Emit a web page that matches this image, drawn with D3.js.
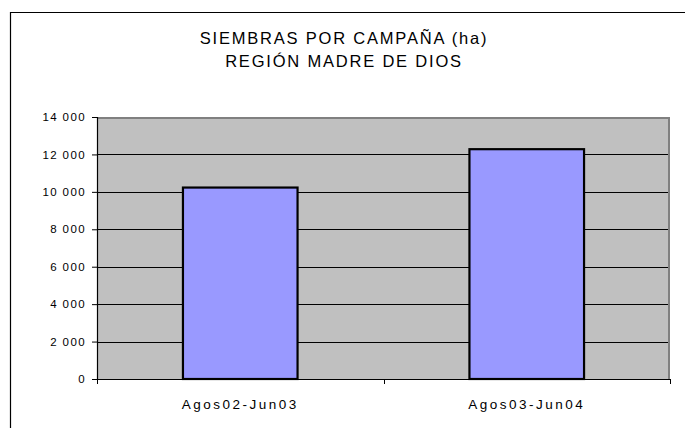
<!DOCTYPE html>
<html>
<head>
<meta charset="utf-8">
<script src="https://cdn.jsdelivr.net/npm/d3@7"></script>
<style>
  body { margin: 0; background: #fff; }
  text { font-family: "Liberation Sans", Arial, sans-serif; fill: #000; }
</style>
</head>
<body>
<svg id="chart"></svg>
<script>
const categories = ['Agos02-Jun03', 'Agos03-Jun04'];
const values = [10230, 12280];
const yTicks = [0, 2000, 4000, 6000, 8000, 10000, 12000, 14000];
const titleLines = ['SIEMBRAS POR CAMPAÑA (ha)', 'REGIÓN MADRE DE DIOS'];

const W = 685, H = 428;
const margin = { top: 117, right: 15, bottom: 49, left: 97 };
const width = W - margin.left - margin.right;
const height = H - margin.top - margin.bottom;

const svg = d3.select('#chart')
    .attr('width', W)
    .attr('height', H);

// outer frame (cut off at right and bottom)
svg.append('path')
    .attr('d', `M10.5,${H + 2} V12.5 H${W + 2}`)
    .attr('fill', 'none')
    .attr('stroke', '#000')
    .attr('stroke-width', 1.2);

svg.selectAll('.title')
    .data(titleLines)
    .enter()
    .append('text')
    .attr('class', 'title')
    .attr('x', 344)
    .attr('y', (d, i) => 44 + i * 23)
    .attr('text-anchor', 'middle')
    .style('font-size', '16.5px')
    .style('letter-spacing', '1.8px')
    .text((d) => d);

const g = svg.append('g')
    .attr('transform', `translate(${margin.left},${margin.top})`);

const x = d3.scaleBand()
    .domain(categories)
    .range([0, width])
    .paddingInner(0.6)
    .paddingOuter(0.3);

const y = d3.scaleLinear()
    .domain([0, 14000])
    .range([height, 0]);

const fmt = (v) => d3.format(',')(v).replace(/,/g, ' ');

// plot background
g.append('rect')
    .attr('width', width)
    .attr('height', height)
    .attr('fill', '#c0c0c0');

// grid lines
g.selectAll('.grid')
    .data(yTicks.filter((d) => d > 0 && d < 14000))
    .enter()
    .append('line')
    .attr('class', 'grid')
    .attr('x1', 0)
    .attr('x2', width)
    .attr('y1', (d) => Math.round(y(d)) + 0.5)
    .attr('y2', (d) => Math.round(y(d)) + 0.5)
    .attr('stroke', '#000')
    .attr('stroke-width', 1);

// top & right plot border
g.append('path')
    .attr('d', `M0,${y(14000) + 1} H${width - 1} V${height}`)
    .attr('fill', 'none')
    .attr('stroke', '#808080')
    .attr('stroke-width', 2);

// bars
g.selectAll('.bar')
    .data(values)
    .enter()
    .append('rect')
    .attr('class', 'bar')
    .attr('x', (d, i) => x(categories[i]))
    .attr('y', (d) => y(d))
    .attr('width', x.bandwidth())
    .attr('height', (d) => height - y(d))
    .attr('fill', '#9999ff')
    .attr('stroke', '#000')
    .attr('stroke-width', 2.2);

// y axis
const yAxis = g.append('g')
    .call(d3.axisLeft(y).tickValues(yTicks).tickSize(5).tickPadding(6).tickFormat(fmt));
yAxis.selectAll('text')
    .style('font-size', '11.5px')
    .style('letter-spacing', '1.4px')
    .style('font-family', '"Liberation Sans", Arial, sans-serif');
yAxis.select('.domain').attr('d', `M-5,0.5 H0.5 V${height}`).attr('stroke-width', 1.2);

// x axis with ticks at band edges
const edges = d3.scaleLinear().domain([0, categories.length]).range([0, width]);
const xAxis = g.append('g')
    .attr('transform', `translate(0,${height})`);
xAxis.append('line')
    .attr('x1', 0).attr('x2', width)
    .attr('y1', 0.5).attr('y2', 0.5)
    .attr('stroke', '#000')
    .attr('stroke-width', 1.2);
xAxis.selectAll('.xtick')
    .data(d3.range(categories.length + 1))
    .enter()
    .append('line')
    .attr('x1', (d) => Math.round(edges(d)) + 0.5)
    .attr('x2', (d) => Math.round(edges(d)) + 0.5)
    .attr('y1', 0)
    .attr('y2', 5)
    .attr('stroke', '#000');
xAxis.selectAll('.xlabel')
    .data(categories)
    .enter()
    .append('text')
    .attr('x', (d) => x(d) + x.bandwidth() / 2 + 0)
    .attr('y', 30)
    .attr('text-anchor', 'middle')
    .style('font-size', '13.5px')
    .style('letter-spacing', '2.5px')
    .text((d) => d);
</script>
</body>
</html>
